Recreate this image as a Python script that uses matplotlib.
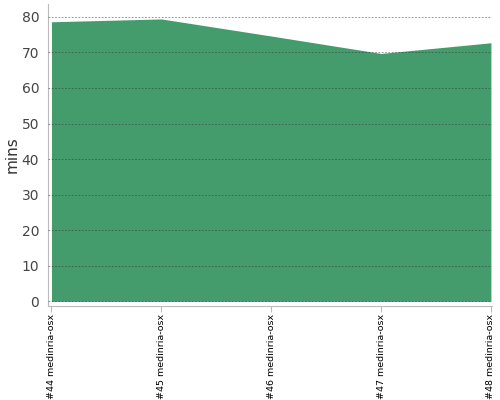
import matplotlib
matplotlib.use("Agg")
import matplotlib.pyplot as plt

builds = ["#44 medinria-osx", "#45 medinria-osx", "#46 medinria-osx",
          "#47 medinria-osx", "#48 medinria-osx"]
minutes = [78.6, 79.4, 74.6, 69.7, 72.7]
y_ticks = [0, 10, 20, 30, 40, 50, 60, 70, 80]


def main():
    fig = plt.figure(figsize=(5, 4), dpi=100)
    ax = fig.add_axes([0.095, 0.236, 0.889, 0.754])

    x = list(range(len(builds)))
    ax.fill_between(x, 0, minutes, color="#449b6c", linewidth=0, zorder=1)

    ax.set_xlim(-0.036, len(builds) - 1 + 0.01)
    ax.set_ylim(-1.2, 83.6)
    ax.set_yticks(y_ticks)
    ax.set_xticks(x)
    ax.set_xticklabels(builds, rotation=90, fontsize=6.8)

    ax.yaxis.grid(True, linestyle=(0, (2, 2)), color="#333333",
                  linewidth=0.6, alpha=0.6, zorder=2)
    ax.set_axisbelow(False)

    for side in ["top", "right"]:
        ax.spines[side].set_visible(False)
    for side in ["left", "bottom"]:
        ax.spines[side].set_color("#bbbbbb")
    ax.tick_params(axis="y", length=0, labelsize=10, labelcolor="#444444", pad=6)
    ax.tick_params(axis="x", length=4, color="#bbbbbb", pad=2)

    ax.set_ylabel("mins", fontsize=11, color="#333333")
    ax.yaxis.set_label_coords(-0.062, 0.5)

    fig.savefig("out.png", dpi=100)


if __name__ == "__main__":
    main()
